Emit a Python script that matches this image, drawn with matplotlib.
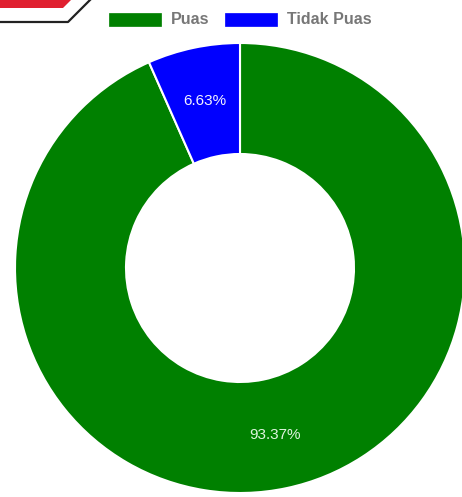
import matplotlib
matplotlib.use("Agg")
import matplotlib.pyplot as plt
from matplotlib.patches import Rectangle, Polygon
from matplotlib.lines import Line2D

# data
labels = ["Puas", "Tidak Puas"]
values = [93.37, 6.63]
colors = ["#008000", "#0000ff"]

W, H = 462, 497
fig = plt.figure(figsize=(W / 100, H / 100), dpi=100)
ax = fig.add_axes([0, 0, 1, 1])

# doughnut, pixel-like coordinates (y up)
cx, cy = 240, H - 268
R, r = 225, 114
wedges, texts, autotexts = ax.pie(
    values,
    colors=colors,
    startangle=90,
    counterclock=False,
    center=(cx, cy),
    radius=R,
    autopct="%.2f%%",
    pctdistance=0.76,
    wedgeprops=dict(width=R - r, edgecolor="white", linewidth=1.5),
    textprops=dict(color="#f2f2ff", fontsize=11, family="Liberation Sans"),
)
autotexts[0].set_color("#dff5df")
ax.set_xlim(0, W)
ax.set_ylim(0, H)
ax.set_aspect("equal")
ax.axis("off")

# legend (figure pixels, y down -> convert)
def px(x, y):
    return x / W, 1 - y / H

box_w, box_h = 52, 13
legend_x = [109, 225]
text_x = [171, 287]
for lab, col, bx, tx in zip(labels, colors, legend_x, text_x):
    x0, y0 = px(bx, 26)
    fig.patches.append(Rectangle((x0, y0), box_w / W, box_h / H,
                                 transform=fig.transFigure, facecolor=col,
                                 edgecolor=col, linewidth=0.5))
    fig.text(*px(tx, 20), lab, color="#777777", fontsize=11.5,
             fontweight="bold", family="Liberation Sans", va="center")

# top-left banner decoration
red = Polygon([px(0, 0), px(71, 0), px(63, 8), px(0, 8)], closed=True,
              transform=fig.transFigure, facecolor="#e02030", edgecolor="none")
fig.patches.append(red)
fig.lines.append(Line2D([0, 68 / W, 90 / W], [1 - 22 / H, 1 - 22 / H, 1.0],
                        transform=fig.transFigure, color="#222222", lw=1.6))

fig.savefig("out.png", dpi=100)
